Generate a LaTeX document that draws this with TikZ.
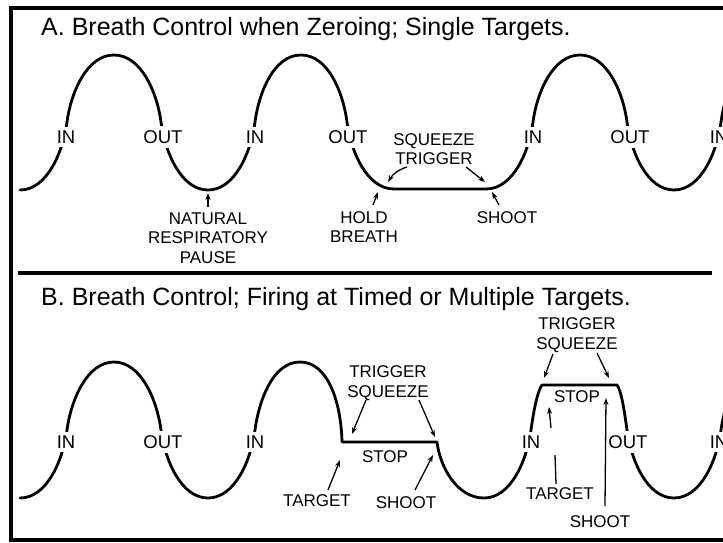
\documentclass[tikz,border=0pt]{standalone}
\usepackage{fontspec}
\setmainfont{Liberation Sans}
\usetikzlibrary{arrows.meta}
\begin{document}
\begin{tikzpicture}[x=1pt,y=-1pt,
  wave/.style={line width=2.8pt, line join=round, line cap=round},
  io/.style={font=\fontsize{18.5}{18.5}\selectfont, fill=white, inner xsep=1pt, inner ysep=4pt},
  lbl/.style={font=\fontsize{17}{19.5}\selectfont, align=center, inner sep=0pt},
  arr/.style={line width=1.3pt, -{Stealth[length=7pt,width=5pt]}},
  plain/.style={line width=1.3pt},
  ttl/.style={font=\fontsize{25}{25}\selectfont, anchor=base west, inner sep=0pt},
  frameline/.style={line width=3.5pt}]
\useasboundingbox (0,0) rectangle (723,542);
\begin{scope}
\clip (0,0) rectangle (723,542);
% frame and separator
\draw[frameline] (730,8) -- (11,8) -- (11,540) -- (730,540);
\draw[frameline] (18,273) -- (712,273);
% titles
\node[ttl] (ta) at (41,35) {A. Breath Control when Zeroing; Single Targets.};
\node[ttl] (tb) at (41,305) {B. Breath Control; Firing at Timed or Multiple Targets.};
% wave A
\draw[wave] (20,190) .. controls +(27,0) and +(-4,30) .. (67,122)
 .. controls +(4,-30) and +(-27,0) .. (114,55)
 .. controls +(27,0) and +(-4,-30) .. (161,122)
 .. controls +(4,30) and +(-27,0) .. (208,190)
 .. controls +(27,0) and +(-4,30) .. (255,122)
 .. controls +(4,-30) and +(-27,0) .. (301,55)
 .. controls +(27,0) and +(-4,-30) .. (347,122)
 .. controls +(4,30) and +(-27,0) .. (394,189)
 -- (486,189)
 .. controls +(27,0) and +(-4,30) .. (533,122)
 .. controls +(4,-30) and +(-27,0) .. (580,55)
 .. controls +(27,0) and +(-4,-30) .. (627,122)
 .. controls +(4,30) and +(-27,0) .. (674,190)
 .. controls +(27,0) and +(-4,30) .. (721,122)
 .. controls +(4,-30) and +(-27,0) .. (768,55);
% wave B
\draw[wave] (20,498) .. controls +(27,0) and +(-4,30) .. (67,430)
 .. controls +(4,-30) and +(-27,0) .. (114,362)
 .. controls +(27,0) and +(-4,-30) .. (161,430)
 .. controls +(4,30) and +(-27,0) .. (208,498)
 .. controls +(27,0) and +(-4,30) .. (255,430)
 .. controls +(4,-30) and +(-27,0) .. (300,362)
 .. controls +(28,0) and +(-1,-40) .. (342,442)
 -- (437,442)
 .. controls +(3,25) and +(-27,0) .. (484,498)
 .. controls +(27,0) and +(-4,30) .. (531,430)
 .. controls +(3,-22) and +(-4,5) .. (542,385)
 -- (617,385)
 .. controls +(4,5) and +(-3,-22) .. (627,430)
 .. controls +(4,30) and +(-27,0) .. (674,498)
 .. controls +(27,0) and +(-4,30) .. (721,430)
 .. controls +(4,-30) and +(-27,0) .. (768,362);
% IN / OUT labels A
\node[io] (ia1) at (66,137) {IN};
\node[io] (oa1) at (163,137) {OUT};
\node[io] (ia2) at (255,137) {IN};
\node[io] (oa2) at (348,137) {OUT};
\node[io] (ia3) at (533,137) {IN};
\node[io] (oa3) at (630,137) {OUT};
\node[io] (ia4) at (719,137) {IN};
% IN / OUT labels B
\node[io] (ib1) at (66,442) {IN};
\node[io] (ob1) at (163,442) {OUT};
\node[io] (ib2) at (255,442) {IN};
\node[io] (ib3) at (531,442) {IN};
\node[io] (ob3) at (628,442) {OUT};
\node[io] (ib4) at (719,442) {IN};
% labels A
\node[lbl] (nat) at (208,238) {NATURAL\\RESPIRATORY\\PAUSE};
\node[lbl] (hold) at (364,227) {HOLD\\BREATH};
\node[lbl] (sqa) at (434,149) {SQUEEZE\\TRIGGER};
\node[lbl] (sha) at (507,218) {SHOOT};
% labels B
\node[lbl] (tsb) at (388,383) {TRIGGER\\SQUEEZE};
\node[lbl] (stopb) at (385,457) {STOP};
\node[lbl] (tgb) at (317,501) {TARGET};
\node[lbl] (shb) at (406,503) {SHOOT};
\node[lbl] (tsc) at (577,335) {TRIGGER\\SQUEEZE};
\node[lbl] (stopc) at (577,397) {STOP};
\node[lbl] (tgc) at (560,494) {TARGET};
\node[lbl] (shc) at (600,522) {SHOOT};
% arrow end points A
\coordinate (natT) at (208,207); \coordinate (natH) at (208,193);
\coordinate (holdT) at (373,205); \coordinate (holdH) at (378,192);
\coordinate (sqlT) at (407,167); \coordinate (sqlH) at (388,182);
\coordinate (sqrT) at (466,167); \coordinate (sqrH) at (485,182);
\coordinate (shaT) at (499,205); \coordinate (shaH) at (492,192);
% arrow end points B
\coordinate (tblT) at (366,400); \coordinate (tblH) at (352,434);
\coordinate (tbrT) at (419,400); \coordinate (tbrH) at (435,437);
\coordinate (tgbT) at (328,490); \coordinate (tgbH) at (340,460);
\coordinate (shbT) at (415,490); \coordinate (shbH) at (433,455);
\coordinate (tclT) at (553,354); \coordinate (tclH) at (544,378);
\coordinate (tcrT) at (597,353); \coordinate (tcrH) at (609,378);
\coordinate (tgcT) at (556,484); \coordinate (tgcG) at (555,455);
\coordinate (tgcU) at (551,428); \coordinate (tgcH) at (549,407);
\coordinate (shcT) at (605,506); \coordinate (shcH) at (606,398);
% arrows A
\draw[arr] (natT) -- (natH);
\draw[arr] (holdT) -- (holdH);
\draw[arr] (sqlT) to[bend right=20] (sqlH);
\draw[arr] (sqrT) -- (sqrH);
\draw[arr] (shaT) -- (shaH);
% arrows B
\draw[arr] (tblT) -- (tblH);
\draw[arr] (tbrT) -- (tbrH);
\draw[arr] (tgbT) -- (tgbH);
\draw[arr] (shbT) -- (shbH);
\draw[arr] (tclT) -- (tclH);
\draw[arr] (tcrT) -- (tcrH);
\draw[plain] (tgcT) -- (tgcG);
\draw[arr] (tgcU) -- (tgcH);
\draw[arr] (shcT) -- (shcH);
\end{scope}
\end{tikzpicture}
\end{document}
